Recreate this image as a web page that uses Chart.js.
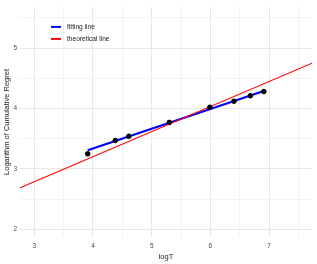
<!DOCTYPE html>
<html>
<head>
<meta charset="utf-8">
<script src="https://cdn.jsdelivr.net/npm/chart.js@4/dist/chart.umd.min.js"></script>
<style>
  html, body { margin: 0; padding: 0; background: #fff; }
  #wrap { width: 317px; height: 264px; }
</style>
</head>
<body>
<div id="wrap"><canvas id="myChart" width="317" height="264"></canvas></div>
<script>
// observed points: log of horizon vs log of cumulative regret
var logT = [3.91, 4.38, 4.61, 5.30, 5.99, 6.40, 6.68, 6.91];
var logRegret = [3.25, 3.47, 3.54, 3.77, 4.02, 4.12, 4.21, 4.28];

// fitted line end points
var fitX = [3.91, 6.91];
var fitY = [3.31, 4.29];

// theoretical line end points
var theoX = [2.76, 7.73];
var theoY = [2.69, 4.75];

var xTicks = [3, 3.5, 4, 4.5, 5, 5.5, 6, 6.5, 7, 7.5];
var yTicks = [2, 2.5, 3, 3.5, 4, 4.5, 5, 5.5];

function pts(xs, ys) {
  return xs.map(function (x, i) { return { x: x, y: ys[i] }; });
}

// small legend drawn inside the plot panel, top-left
var innerLegend = {
  id: "innerLegend",
  afterDraw: function (chart) {
    var ctx = chart.ctx;
    var area = chart.chartArea;
    var items = chart.data.datasets.filter(function (d) { return d.inLegend; });
    ctx.save();
    ctx.font = "6.6px 'Liberation Sans', Arial, sans-serif";
    ctx.textBaseline = "middle";
    items.forEach(function (d, i) {
      var y = area.top + 20 + i * 12;
      ctx.strokeStyle = d.borderColor;
      ctx.lineWidth = 2;
      ctx.beginPath();
      ctx.moveTo(area.left + 31, y);
      ctx.lineTo(area.left + 41, y);
      ctx.stroke();
      ctx.fillStyle = "#1a1a1a";
      ctx.fillText(d.label, area.left + 47, y);
    });
    ctx.restore();
  },
};

function gridColor(ctx) {
  var v = ctx.tick ? ctx.tick.value : 0;
  return Number.isInteger(v) ? "#e8e8e8" : "#f3f3f3";
}

var ctx = document.getElementById("myChart").getContext("2d");
var myChart = new Chart(ctx, {
  type: "scatter",
  data: {
    datasets: [
      {
        label: "points",
        data: pts(logT, logRegret),
        backgroundColor: "#000000",
        borderColor: "#000000",
        pointRadius: 2.3,
        showLine: false,
        order: 0,
      },
      {
        type: "line",
        label: "fitting line",
        inLegend: true,
        data: pts(fitX, fitY),
        borderColor: "#0000ff",
        borderWidth: 2.2,
        pointRadius: 0,
        fill: false,
        order: 2,
      },
      {
        type: "line",
        label: "theoretical line",
        inLegend: true,
        data: pts(theoX, theoY),
        borderColor: "#ff0000",
        borderWidth: 1.1,
        pointRadius: 0,
        fill: false,
        order: 1,
      },
    ],
  },
  options: {
    responsive: false,
    animation: false,
    layout: { padding: { top: 3, right: 4, left: 0, bottom: 0 } },
    plugins: {
      legend: { display: false },
      tooltip: { enabled: false },
    },
    scales: {
      x: {
        type: "linear",
        min: 2.757,
        max: 7.73,
        afterBuildTicks: function (scale) {
          scale.ticks = xTicks.map(function (v) { return { value: v }; });
        },
        afterFit: function (scale) { scale.height = 27; },
        border: { display: false },
        grid: { color: gridColor, drawTicks: false, lineWidth: 1 },
        ticks: {
          autoSkip: false,
          maxRotation: 0,
          padding: 5,
          color: "#4d4d4d",
          font: { family: "'Liberation Sans', Arial, sans-serif", size: 6.5 },
          callback: function (v) { return Number.isInteger(v) ? String(v) : ""; },
        },
        title: {
          display: true,
          text: "logT",
          color: "#1a1a1a",
          padding: { top: 0, bottom: 3 },
          font: { family: "'Liberation Sans', Arial, sans-serif", size: 7.5 },
        },
      },
      y: {
        type: "linear",
        min: 1.875,
        max: 5.68,
        afterBuildTicks: function (scale) {
          scale.ticks = yTicks.map(function (v) { return { value: v }; });
        },
        afterFit: function (scale) { scale.width = 20; },
        border: { display: false },
        grid: { color: gridColor, drawTicks: false, lineWidth: 1 },
        ticks: {
          autoSkip: false,
          padding: 3,
          color: "#4d4d4d",
          font: { family: "'Liberation Sans', Arial, sans-serif", size: 6.5 },
          callback: function (v) { return Number.isInteger(v) ? String(v) : ""; },
        },
        title: {
          display: true,
          text: "Logarithm of Cumulative Regret",
          color: "#1a1a1a",
          padding: { top: 2, bottom: 0 },
          font: { family: "'Liberation Sans', Arial, sans-serif", size: 7.5 },
        },
      },
    },
  },
  plugins: [innerLegend],
});
</script>
</body>
</html>
